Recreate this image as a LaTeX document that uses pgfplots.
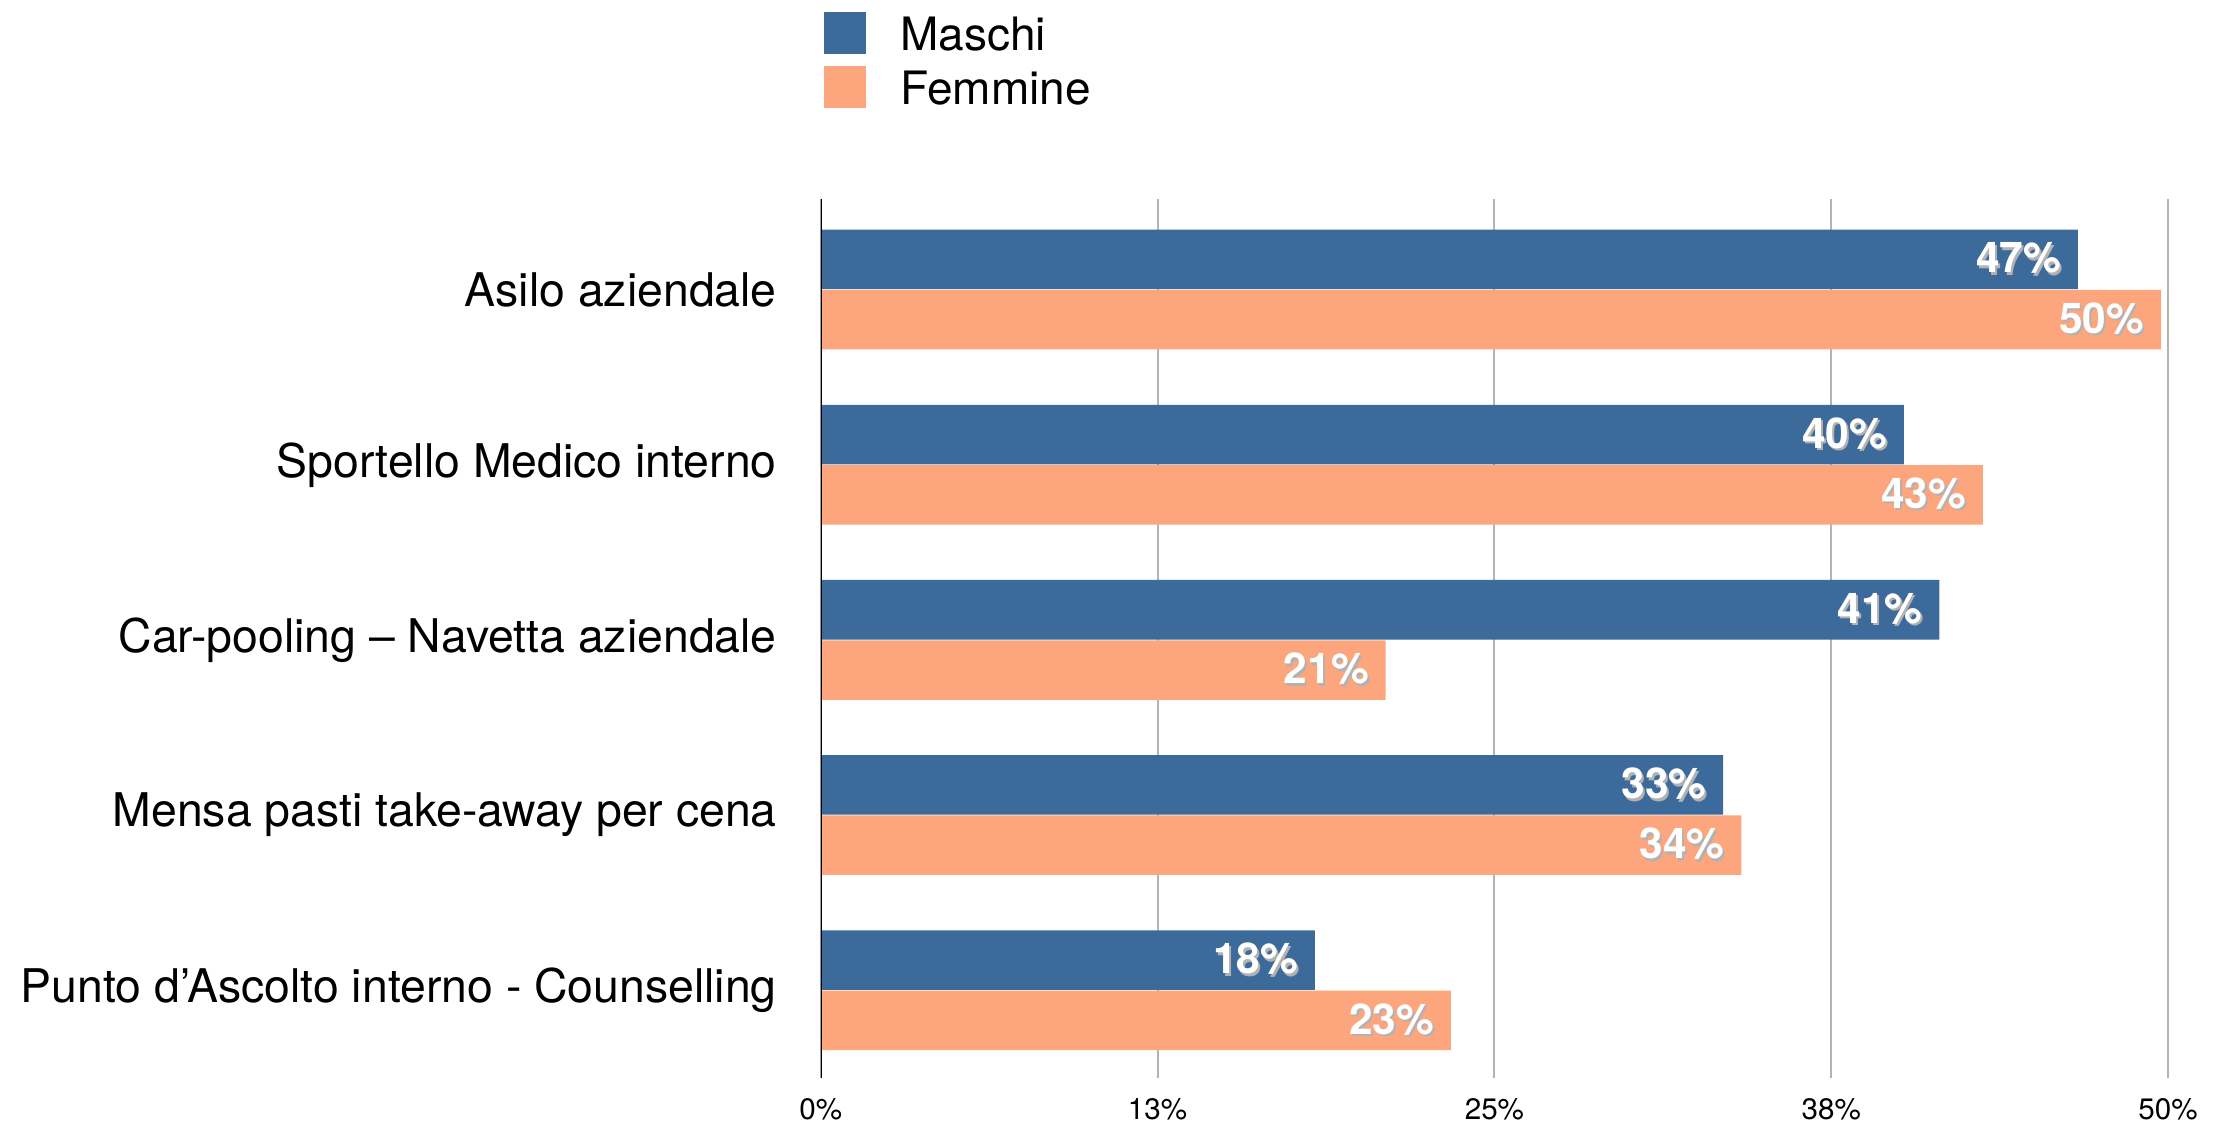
\documentclass[border=0pt]{standalone}
\usepackage{fontspec}
\setmainfont{TeX Gyre Heros}
\usepackage{pgfplots}
\pgfplotsset{compat=1.18}
\usepackage{pgfplotstable}
\definecolor{maschi}{HTML}{3C6B9B}
\definecolor{femmine}{HTML}{FDA57D}
\definecolor{gridgray}{HTML}{B3B3B3}

% x = percentage, y = category index, lab = printed value
\pgfplotstableread{
x y lab
46.65 0 47
40.20 1 40
41.51 2 41
33.49 3 33
18.34 4 18
}\maschitab
\pgfplotstableread{
x y lab
49.74 0 50
43.13 1 43
20.96 2 21
34.17 3 34
23.38 4 23
}\femminetab

\begin{document}
\begin{tikzpicture}
\path[use as bounding box] (0pt,0pt) rectangle (553.75pt,281pt);
\begin{axis}[
    at={(205.2pt,11.5pt)}, anchor=south west,
    scale only axis,
    width=336.8pt, height=219.75pt,
    xbar,
    bar width=0.34,
    xmin=0, xmax=50,
    ymin=-0.517, ymax=4.501,
    y dir=reverse,
    xtick={0,12.5,25,37.5,50},
    xticklabels={0\%,13\%,25\%,38\%,50\%},
    ytick={0,1,2,3,4},
    yticklabels={Asilo aziendale, Sportello Medico interno, Car-pooling – Navetta aziendale, Mensa pasti take-away per cena, Punto d’Ascolto interno - Counselling},
    major tick length=0pt,
    axis line style={draw=none},
    xmajorgrids,
    grid style={gridgray, line width=0.5pt},
    xticklabel style={font=\fontsize{7.4}{8}\selectfont, inner sep=0pt, yshift=-5pt},
    yticklabel style={font=\fontsize{11.6}{13}\selectfont, inner sep=0pt, xshift=-10.8pt},
    point meta=explicit symbolic,
    nodes near coords={\rlap{\kern0.5pt\raisebox{-0.6pt}{\color{black!30}\pgfplotspointmeta\%}}\pgfplotspointmeta\%},
    nodes near coords style={anchor=east, inner sep=0pt, xshift=-4pt, text=white, font=\bfseries\fontsize{10.6}{12}\selectfont},
    legend image code/.code={\fill[#1] (0pt,-4.3pt) rectangle (10.5pt,6.2pt);},
    legend cell align=left,
    legend style={at={(axis description cs:0.002,1.214)}, anchor=north west, draw=none, fill=none,
        inner sep=0pt, column sep=8.5pt, row sep=2.5pt, nodes={inner sep=0pt},
        font=\fontsize{11.5}{13}\selectfont},
]
\addplot[fill=maschi, draw=none, bar shift=-0.172] table[x=x, y=y, meta=lab] {\maschitab};
\addlegendentry{Maschi}
\addplot[fill=femmine, draw=none, bar shift=0.172] table[x=x, y=y, meta=lab] {\femminetab};
\addlegendentry{Femmine}
\draw[black, line width=0.6pt] (rel axis cs:0,0) -- (rel axis cs:0,1);
\end{axis}
\end{tikzpicture}
\end{document}
